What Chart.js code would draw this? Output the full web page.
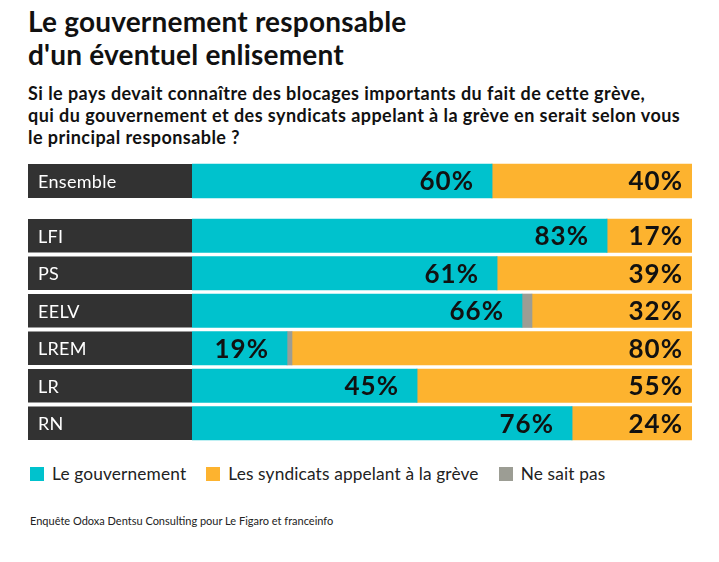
<!DOCTYPE html>
<html lang="fr">
<head>
<meta charset="utf-8">
<script src="https://cdn.jsdelivr.net/npm/chart.js@4.4.1/dist/chart.umd.min.js"></script>
<style>
  html, body { margin:0; padding:0; background:#fff; }
  body { width:719px; height:562px; position:relative; overflow:hidden; font-family: Lato, "Noto Sans", sans-serif; color:#111; }
  #title { position:absolute; left:28px; top:5px; font-size:28px; font-weight:700; line-height:33px; letter-spacing:0.2px; }
  #subtitle { position:absolute; left:28px; top:82px; font-size:18px; font-weight:700; line-height:22px; letter-spacing:0.45px; }
  canvas { position:absolute; left:0; }
  #c1 { top:162px; }
  #c2 { top:217px; }
  #legend { position:absolute; left:30px; top:463px; font-size:17.3px; letter-spacing:0.15px; display:flex; align-items:center; color:#222; }
  .item { display:flex; align-items:center; margin-right:20px; }
  .sw { width:14px; height:14px; margin-right:8px; }
  #source { position:absolute; left:30px; top:514px; font-size:11px; color:#222; }
</style>
</head>
<body>
<div id="title">Le gouvernement responsable<br>d'un éventuel enlisement</div>
<div id="subtitle">Si le pays devait connaître des blocages importants du fait de cette grève,<br>qui du gouvernement et des syndicats appelant à la grève en serait selon vous<br>le principal responsable ?</div>
<canvas id="c1" width="719" height="38"></canvas>
<canvas id="c2" width="719" height="225"></canvas>
<div id="legend"></div>
<div id="source">Enquête Odoxa Dentsu Consulting pour Le Figaro et franceinfo</div>
<script>
// ---- Data ----
const categories = ['Ensemble', 'LFI', 'PS', 'EELV', 'LREM', 'LR', 'RN'];
const gouvernement = [60, 83, 61, 66, 19, 45, 76];
const neSaitPas   = [0, 0, 0, 2, 1, 0, 0];
const syndicats   = [40, 17, 39, 32, 80, 55, 24];
const seriesNames = ['Le gouvernement', 'Ne sait pas', 'Les syndicats appelant à la grève'];
const legendOrder = ['Le gouvernement', 'Les syndicats appelant à la grève', 'Ne sait pas'];

// ---- Styles ----
const colors = {
  'Le gouvernement': '#00C2CD',
  'Ne sait pas': '#9C9D94',
  'Les syndicats appelant à la grève': '#FDB32F'
};
const labelBoxColor = '#323232';
const LABEL_BOX_LEFT = 28;

const rowPlugin = {
  id: 'rowDecor',
  beforeDatasetsDraw(chart) {
    const ctx = chart.ctx;
    const meta = chart.getDatasetMeta(0);
    const area = chart.chartArea;
    ctx.save();
    meta.data.forEach((el, i) => {
      const top = el.y - el.height / 2;
      ctx.fillStyle = labelBoxColor;
      ctx.fillRect(LABEL_BOX_LEFT, top, area.left - LABEL_BOX_LEFT, el.height);
      ctx.fillStyle = '#fff';
      ctx.font = '18px Lato, "Noto Sans", sans-serif';
      ctx.letterSpacing = '0.3px';
      ctx.textBaseline = 'middle';
      ctx.textAlign = 'left';
      ctx.fillText(chart.data.labels[i], 38, el.y + 1);
    });
    ctx.restore();
  },
  afterDatasetsDraw(chart) {
    const ctx = chart.ctx;
    const area = chart.chartArea;
    ctx.save();
    ctx.font = 'bold 26px Lato, "Noto Sans", sans-serif';
    ctx.letterSpacing = '1px';
    ctx.fillStyle = '#111';
    ctx.textBaseline = 'middle';
    const gMeta = chart.getDatasetMeta(0);
    const sMeta = chart.getDatasetMeta(2);
    gMeta.data.forEach((el, i) => {
      const v = chart.data.datasets[0].data[i];
      const txt = v + '%';
      const w = ctx.measureText(txt).width;
      const segW = el.x - el.base;
      if (segW > w + 30) {
        ctx.textAlign = 'right';
        ctx.fillText(txt, el.x - 18, el.y + 1);
      } else {
        ctx.textAlign = 'center';
        ctx.fillText(txt, (el.x + el.base) / 2, el.y + 1);
      }
    });
    sMeta.data.forEach((el, i) => {
      const v = chart.data.datasets[2].data[i];
      ctx.textAlign = 'right';
      ctx.fillText(v + '%', area.right - 9, el.y + 1);
    });
    ctx.restore();
  }
};

function makeChart(id, from, to, thickness) {
  const labels = categories.slice(from, to);
  const series = [gouvernement, neSaitPas, syndicats];
  return new Chart(document.getElementById(id), {
    type: 'bar',
    data: {
      labels,
      datasets: series.map((arr, k) => ({
        label: seriesNames[k],
        data: arr.slice(from, to),
        backgroundColor: colors[seriesNames[k]],
        borderWidth: 0,
        barThickness: thickness
      }))
    },
    options: {
      indexAxis: 'y',
      responsive: false,
      animation: false,
      devicePixelRatio: 1,
      layout: { padding: { left: 192, right: 27, top: 0, bottom: 0 } },
      scales: {
        x: { stacked: true, min: 0, max: 100, display: false },
        y: { stacked: true, display: false }
      },
      plugins: { legend: { display: false }, tooltip: { enabled: false } }
    },
    plugins: [rowPlugin]
  });
}

makeChart('c1', 0, 1, 34);
makeChart('c2', 1, categories.length, 33.5);

// legend
const lg = document.getElementById('legend');
legendOrder.forEach(name => {
  const d = document.createElement('div');
  d.className = 'item';
  const s = document.createElement('div');
  s.className = 'sw';
  s.style.background = colors[name];
  const t = document.createElement('span');
  t.textContent = name;
  d.appendChild(s); d.appendChild(t);
  lg.appendChild(d);
});
</script>
</body>
</html>
